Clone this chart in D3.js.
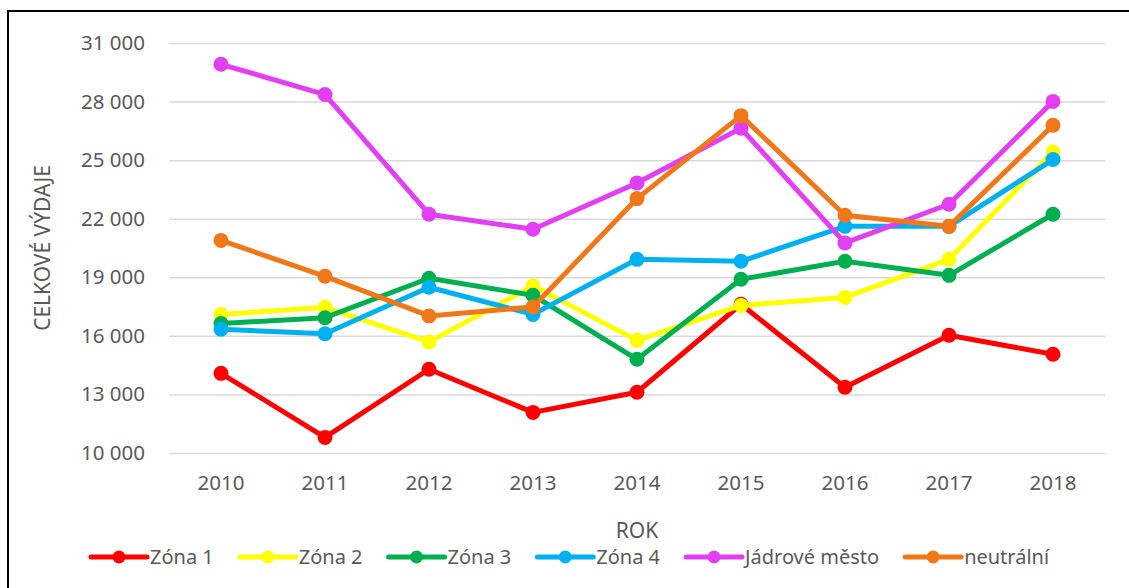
<!DOCTYPE html>
<html>
<head>
<meta charset="utf-8">
<script src="https://cdn.jsdelivr.net/npm/d3@7"></script>
<style>
  body { margin: 0; background: #fff; }
  svg text { font-family: "Noto Sans", "Open Sans", sans-serif; fill: #595959; }
</style>
</head>
<body>
<div id="chart"></div>
<script>
// Data
var years = ['2010', '2011', '2012', '2013', '2014', '2015', '2016', '2017', '2018'];
var seriesNames = ['Zóna 1', 'Zóna 2', 'Zóna 3', 'Zóna 4', 'Jádrové město', 'neutrální'];
var seriesColors = ['#ff0000', '#ffff00', '#00b050', '#00b0f0', '#e23ff2', '#f07818'];
var zona1 = [14080, 10800, 14290, 12080, 13110, 17620, 13370, 16030, 15060];
var zona2 = [17100, 17460, 15690, 18560, 15770, 17560, 17970, 19920, 25420];
var zona3 = [16630, 16930, 18950, 18080, 14800, 18900, 19820, 19100, 22230];
var zona4 = [16340, 16110, 18490, 17100, 19920, 19820, 21610, 21610, 25030];
var jadro = [29910, 28360, 22230, 21460, 23830, 26630, 20760, 22740, 28010];
var neutral = [20890, 19050, 17020, 17480, 23030, 27280, 22180, 21610, 26790];
var yTicks = [10000, 13000, 16000, 19000, 22000, 25000, 28000, 31000];

var seriesValues = [zona1, zona2, zona3, zona4, jadro, neutral];

var W = 1129, H = 588;
var margin = {top: 43, right: 24, bottom: 135, left: 169};

var svg = d3.select('#chart').append('svg')
  .attr('width', W)
  .attr('height', H);

// frame
svg.append('rect')
  .attr('x', 8).attr('y', 11)
  .attr('width', 1300).attr('height', 700)
  .attr('fill', 'none')
  .attr('stroke', '#000')
  .attr('stroke-width', 2);

var x = d3.scaleBand()
  .domain(years)
  .range([margin.left, W - margin.right]);

var y = d3.scaleLinear()
  .domain([10000, 31000])
  .range([H - margin.bottom, margin.top]);

var fmt = function (d) { return d3.format(',')(d).replace(',', ' '); };

// gridlines + y labels
var yAxis = svg.append('g')
  .attr('transform', 'translate(' + margin.left + ',0)')
  .call(d3.axisLeft(y).tickValues(yTicks).tickFormat(fmt)
    .tickSize(-(W - margin.left - margin.right)).tickPadding(24));
yAxis.select('.domain').remove();
yAxis.selectAll('line').attr('stroke', '#d9d9d9').attr('stroke-width', 1.5);
yAxis.selectAll('text').attr('font-size', 20.5).attr('fill', '#595959');

// x labels
var xAxis = svg.append('g')
  .attr('transform', 'translate(0,' + (H - margin.bottom) + ')')
  .call(d3.axisBottom(x).tickSize(0).tickPadding(22));
xAxis.select('.domain').remove();
xAxis.selectAll('text').attr('font-size', 20.5).attr('fill', '#595959');

// axis titles
svg.append('text')
  .attr('transform', 'translate(50,' + ((margin.top + H - margin.bottom) / 2) + ') rotate(-90)')
  .attr('text-anchor', 'middle')
  .attr('font-size', 21)
  .text('CELKOVÉ VÝDAJE');

svg.append('text')
  .attr('x', (margin.left + W - margin.right) / 2)
  .attr('y', 538)
  .attr('text-anchor', 'middle')
  .attr('font-size', 21)
  .text('ROK');

// series
var line = d3.line()
  .x(function (d, i) { return x(years[i]) + x.bandwidth() / 2; })
  .y(function (d) { return y(d); });

seriesValues.forEach(function (vals, s) {
  var g = svg.append('g');
  g.append('path')
    .attr('d', line(vals))
    .attr('fill', 'none')
    .attr('stroke', seriesColors[s])
    .attr('stroke-width', 5)
    .attr('stroke-linejoin', 'round');
  g.selectAll('circle').data(vals).enter().append('circle')
    .attr('cx', function (d, i) { return x(years[i]) + x.bandwidth() / 2; })
    .attr('cy', function (d) { return y(d); })
    .attr('r', 7.5)
    .attr('fill', seriesColors[s]);
});

// legend
var legend = svg.append('g').attr('transform', 'translate(91,557)');
var lx = 0;
seriesNames.forEach(function (name, s) {
  var item = legend.append('g').attr('transform', 'translate(' + lx + ',0)');
  item.append('line')
    .attr('x1', 0).attr('x2', 56)
    .attr('stroke', seriesColors[s])
    .attr('stroke-width', 5)
    .attr('stroke-linecap', 'round');
  item.append('circle').attr('cx', 28).attr('r', 6.5).attr('fill', seriesColors[s]);
  var t = item.append('text')
    .attr('x', 59)
    .attr('dy', '0.35em')
    .attr('font-size', 20)
    .text(name);
  lx += 59 + t.node().getComputedTextLength() + 26;
});
</script>
</body>
</html>
